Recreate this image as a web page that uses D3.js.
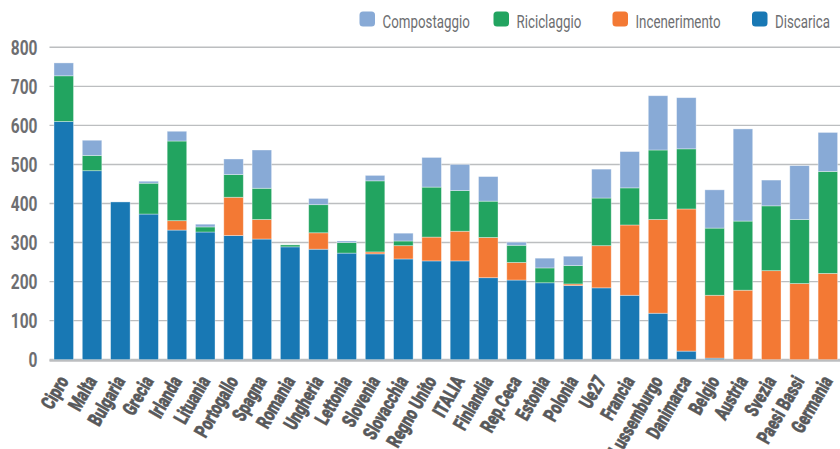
<!DOCTYPE html>
<html lang="it">
<head>
<meta charset="utf-8">
<script src="https://cdn.jsdelivr.net/npm/d3@7"></script>
<style>
  html, body { margin: 0; padding: 0; background: #ffffff; }
  svg { display: block; }
</style>
</head>
<body>
<div id="chart"></div>
<script>
// Rifiuti urbani per forma di gestione (kg per abitante)
const countries = ["Cipro", "Malta", "Bulgaria", "Grecia", "Irlanda", "Lituania", "Portogallo", "Spagna",
  "Romania", "Ungheria", "Lettonia", "Slovenia", "Slovacchia", "Regno Unito", "ITALIA", "Finlandia",
  "Rep.Ceca", "Estonia", "Polonia", "Ue27", "Francia", "Lussemburgo", "Danimarca", "Belgio",
  "Austria", "Svezia", "Paesi Bassi", "Germania"];

const discarica     = [610, 484, 404, 373, 332, 327, 318, 309, 289, 283, 273, 271, 258, 253, 253, 210, 204, 197, 190, 184, 165, 119, 22, 4, 0, 0, 0, 0];
const incenerimento = [0, 0, 0, 0, 24, 0, 98, 50, 0, 42, 0, 5, 34, 61, 76, 103, 45, 0, 4, 108, 180, 240, 364, 161, 178, 228, 195, 221];
const riciclaggio   = [117, 39, 0, 79, 204, 13, 58, 80, 5, 72, 27, 182, 12, 128, 104, 93, 44, 38, 47, 122, 95, 178, 154, 172, 177, 166, 164, 261];
const compostaggio  = [33, 39, 0, 5, 25, 7, 40, 98, 0, 16, 4, 14, 20, 76, 67, 63, 8, 25, 24, 74, 93, 139, 131, 98, 236, 66, 138, 100];

const yTicks = [0, 100, 200, 300, 400, 500, 600, 700, 800];

// stacking order from the base upward; legend lists them the other way round
const seriesKeys = ["Discarica", "Incenerimento", "Riciclaggio", "Compostaggio"];
const seriesValues = [discarica, incenerimento, riciclaggio, compostaggio];
const legendOrder = ["Compostaggio", "Riciclaggio", "Incenerimento", "Discarica"];
const colors = {
  Discarica: "#1878b4",
  Incenerimento: "#f37934",
  Riciclaggio: "#22a460",
  Compostaggio: "#88aad6"
};

const FONT = "Roboto, 'DejaVu Sans', sans-serif";
const W = 840, H = 449;
const svg = d3.select("#chart").append("svg")
  .attr("width", W).attr("height", H)
  .attr("viewBox", `0 0 ${W} ${H}`);

const rows = countries.map((c, i) => {
  const r = { country: c };
  seriesKeys.forEach((k, j) => { r[k] = seriesValues[j][i]; });
  return r;
});

const x = d3.scaleBand()
  .domain(countries)
  .range([49.6, 842])
  .paddingInner(0.31)
  .paddingOuter(0.155);

const y = d3.scaleLinear()
  .domain([0, 800])
  .range([359.7, 47.3]);

// horizontal grid
svg.append("g")
  .selectAll("line")
  .data(yTicks)
  .join("line")
  .attr("x1", 49.5).attr("x2", W)
  .attr("y1", d => y(d)).attr("y2", d => y(d))
  .attr("stroke", "#bcbec0")
  .attr("stroke-width", d => d === 0 ? 2 : 1.4);

// y axis labels (condensed by a horizontal scale)
svg.append("g")
  .selectAll("text")
  .data(yTicks)
  .join("text")
  .attr("transform", d => `translate(37.5,${y(d)}) scale(0.74,1)`)
  .attr("text-anchor", "end")
  .attr("dy", "0.36em")
  .attr("font-family", FONT)
  .attr("font-weight", "bold")
  .attr("font-size", 21)
  .attr("fill", "#6d6e71")
  .text(d3.format("d"));

// stacked bars
const stack = d3.stack().keys(seriesKeys);
const layers = stack(rows);

svg.append("g")
  .selectAll("g")
  .data(layers)
  .join("g")
  .attr("fill", d => colors[d.key])
  .selectAll("rect")
  .data(d => d.filter(s => s[1] - s[0] > 0))
  .join("rect")
  .attr("x", d => x(d.data.country))
  .attr("width", x.bandwidth())
  .attr("y", d => y(d[1]))
  .attr("height", d => y(d[0]) - y(d[1]))
  .attr("stroke", "rgba(255,255,255,0.45)")
  .attr("stroke-width", 0.8);

// baseline on top of bars
svg.append("line")
  .attr("x1", 49.5).attr("x2", W)
  .attr("y1", y(0) + 1).attr("y2", y(0) + 1)
  .attr("stroke", "#bcbec0")
  .attr("stroke-width", 2);

// category labels, rotated and condensed
svg.append("g")
  .selectAll("text")
  .data(countries)
  .join("text")
  .attr("transform", d => `translate(${x(d) + x.bandwidth() / 2 + 5.5},381) rotate(-60) scale(0.71,1)`)
  .attr("text-anchor", "end")
  .attr("font-family", FONT)
  .attr("font-weight", "900")
  .attr("font-size", 20)
  .attr("fill", "#58595b")
  .attr("stroke", "#58595b")
  .attr("stroke-width", 0.5)
  .text(d => d);

// legend
const legendX = [359.5, 493.5, 612.5, 752];
const legend = svg.append("g")
  .selectAll("g")
  .data(legendOrder)
  .join("g")
  .attr("transform", (d, i) => `translate(${legendX[i]},11.5)`);

legend.append("rect")
  .attr("width", 15.5).attr("height", 15)
  .attr("rx", 3.5).attr("ry", 3.5)
  .attr("fill", d => colors[d]);

legend.append("text")
  .attr("transform", "translate(23,16.5) scale(0.74,1)")
  .attr("font-family", FONT)
  .attr("font-size", 18)
  .attr("fill", "#6d6e71")
  .text(d => d);
</script>
</body>
</html>
